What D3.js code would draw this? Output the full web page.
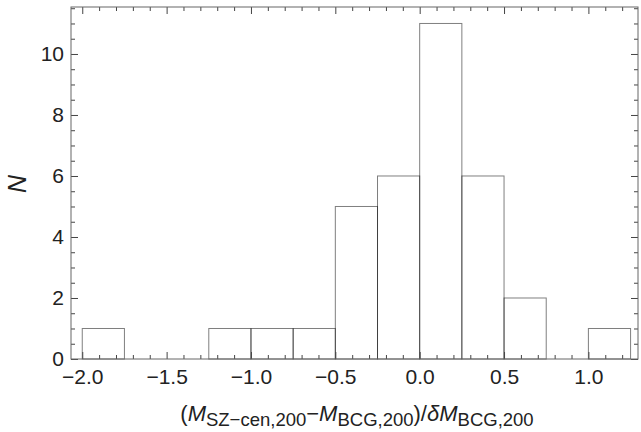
<!DOCTYPE html>
<html>
<head>
<meta charset="utf-8">
<script src="https://cdn.jsdelivr.net/npm/d3@7"></script>
<style>
  body { margin: 0; background: #fff; }
  svg text { font-family: "Liberation Sans", Arial, sans-serif; fill: #222; }
</style>
</head>
<body>
<div id="chart"></div>
<script>
// histogram bins (left edge, width 0.25) and counts
let binStarts = [-2.0, -1.75, -1.5, -1.25, -1.0, -0.75, -0.5, -0.25, 0.0, 0.25, 0.5, 0.75, 1.0];
let counts = [1, 0, 0, 1, 1, 1, 5, 6, 11, 6, 2, 0, 1];
let binWidth = 0.25;
let xTicks = [-2.0, -1.5, -1.0, -0.5, 0.0, 0.5, 1.0];
let yTicks = [0, 2, 4, 6, 8, 10];

let width = 641, height = 432;
let plotLeft = 71, plotRight = 638, plotTop = 7, plotBottom = 359;

let svg = d3.select("#chart").append("svg")
    .attr("width", width)
    .attr("height", height);

let xScale = d3.scaleLinear()
    .domain([-2.0667, 1.294])
    .range([plotLeft, plotRight]);
let yScale = d3.scaleLinear()
    .domain([0, 11.54])
    .range([plotBottom, plotTop]);

// bars
let barG = svg.append('g').classed('bars', true);
barG.selectAll('rect')
    .data(binStarts.map((b, i) => ({x0: b, n: counts[i]})).filter(d => d.n > 0))
    .enter()
    .append('rect')
    .attr('x', d => xScale(d.x0))
    .attr('y', d => yScale(d.n))
    .attr('width', d => xScale(d.x0 + binWidth) - xScale(d.x0))
    .attr('height', d => yScale(0) - yScale(d.n))
    .style('fill', 'none')
    .style('stroke', '#000')
    .style('stroke-opacity', 0.5)
    .style('stroke-width', 1);

// minor tick values
let xMinor = d3.range(-2.0, 1.3, 0.1).map(v => Math.round(v * 10) / 10)
    .filter(v => Math.abs(v * 2 - Math.round(v * 2)) > 1e-6);
let yMinor = d3.range(0.5, 11.6, 0.5).filter(v => v % 2 !== 0);

function axis(gen, scale, values, size, fmt) {
    return gen(scale).tickValues(values).tickSizeInner(size).tickSizeOuter(0)
        .tickFormat(fmt || '');
}

let fmt = d3.format('.1f');

function styleAxis(g) {
    g.select('.domain').remove();
    g.selectAll('line').style('stroke', '#444').style('stroke-width', 1);
    g.selectAll('text').style('font-size', '21px');
}

// bottom
svg.append('g').attr('transform', 'translate(0,' + plotBottom + ')')
    .call(axis(d3.axisTop, xScale, xMinor, 4)).call(styleAxis);
let xg = svg.append('g').attr('transform', 'translate(0,' + plotBottom + ')')
    .call(axis(d3.axisTop, xScale, xTicks, 7, fmt)).call(styleAxis);
xg.selectAll('text').attr('y', 25).attr('dy', 0)
    .text(d => fmt(d).replace('-', '\u2212'));
// top
svg.append('g').attr('transform', 'translate(0,' + plotTop + ')')
    .call(axis(d3.axisBottom, xScale, xMinor, 4)).call(styleAxis);
svg.append('g').attr('transform', 'translate(0,' + plotTop + ')')
    .call(axis(d3.axisBottom, xScale, xTicks, 7)).call(styleAxis);
// left
svg.append('g').attr('transform', 'translate(' + plotLeft + ',0)')
    .call(axis(d3.axisRight, yScale, yMinor, 4)).call(styleAxis);
let yg = svg.append('g').attr('transform', 'translate(' + plotLeft + ',0)')
    .call(axis(d3.axisRight, yScale, yTicks, 7, d3.format('d'))).call(styleAxis);
yg.selectAll('text').attr('x', -7).style('text-anchor', 'end');
// right
svg.append('g').attr('transform', 'translate(' + plotRight + ',0)')
    .call(axis(d3.axisLeft, yScale, yMinor, 4)).call(styleAxis);
svg.append('g').attr('transform', 'translate(' + plotRight + ',0)')
    .call(axis(d3.axisLeft, yScale, yTicks, 7)).call(styleAxis);

// frame
svg.append('rect')
    .attr('x', plotLeft).attr('y', plotTop)
    .attr('width', plotRight - plotLeft).attr('height', plotBottom - plotTop)
    .style('fill', 'none').style('stroke', '#666').style('stroke-width', 1);

// axis labels
svg.append('text')
    .attr('transform', 'translate(26,184) rotate(-90)')
    .style('text-anchor', 'middle')
    .style('font-size', '25px')
    .style('font-style', 'italic')
    .text('N');

let xl = svg.append('text')
    .attr('x', 357)
    .attr('y', 421)
    .style('text-anchor', 'middle')
    .style('font-size', '22px');
xl.append('tspan').text('(');
xl.append('tspan').style('font-style', 'italic').text('M');
xl.append('tspan').attr('dy', 5).style('font-size', '18.5px').text('SZ\u2212cen,200');
xl.append('tspan').attr('dy', -5).text('\u2212');
xl.append('tspan').style('font-style', 'italic').text('M');
xl.append('tspan').attr('dy', 5).style('font-size', '18.5px').text('BCG,200');
xl.append('tspan').attr('dy', -5).text(')/');
xl.append('tspan').style('font-style', 'italic').text('\u03b4M');
xl.append('tspan').attr('dy', 5).style('font-size', '18.5px').text('BCG,200');
</script>
</body>
</html>
